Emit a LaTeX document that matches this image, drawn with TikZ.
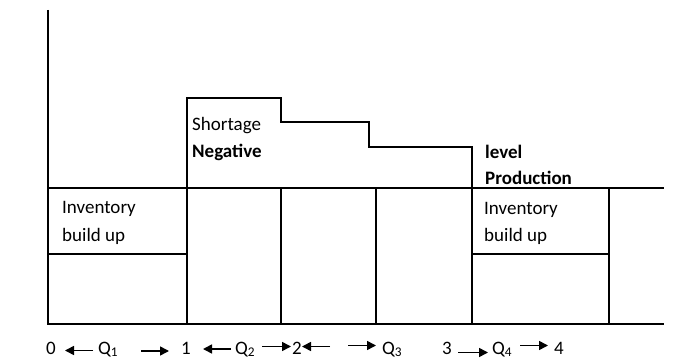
\documentclass[tikz,border=0pt]{standalone}
\usepackage{fontspec}
\setmainfont{Carlito}
\usetikzlibrary{arrows.meta}
\begin{document}
\begin{tikzpicture}[x=1pt,y=-1pt,
  ln/.style={line width=1.1pt, line join=miter},
  lbl/.style={anchor=base west, inner sep=0pt, font=\fontsize{19}{27}\selectfont},
  num/.style={anchor=base, inner sep=0pt, font=\fontsize{19}{27}\selectfont},
  arr/.style={line width=1.6pt, -{Triangle[length=9pt,width=9pt]}}]
\useasboundingbox (0,0) rectangle (674,363);
% frame
\draw[ln] (48,10) -- (48,324) -- (664,324);
\draw[ln] (48,188) -- (664,188);
\draw[ln] (48,254) -- (187,254);
\draw[ln] (187,324) -- (187,98) -- (281,98) -- (281,122) -- (369,122) -- (369,147) -- (472,147) -- (472,324);
\draw[ln] (281,188) -- (281,324);
\draw[ln] (376,188) -- (376,324);
\draw[ln] (609,188) -- (609,324);
\draw[ln] (472,254) -- (609,254);
% texts
\node[lbl] (inv1) at (62,214) {Inventory};
\node[lbl] (bu1) at (62,241) {build up};
\node[lbl] (sh) at (192,130.7) {Shortage};
\node[lbl] (neg) at (192,157.7) {\bfseries Negative};
\node[lbl] (lev) at (485,158.3) {\bfseries level};
\node[lbl] (prod) at (485,185) {\bfseries Production};
\node[lbl] (inv2) at (484,215) {Inventory};
\node[lbl] (bu2) at (484,241) {build up};
% bottom labels
\node[num] (n0) at (51,354) {0};
\node[lbl] (q1) at (98,354) {Q\textsubscript{1}};
\node[num] (n1) at (186,354) {1};
\node[lbl] (q2) at (235,354) {Q\textsubscript{2}};
\node[num] (n2) at (297,354) {2};
\node[lbl] (q3) at (382,354) {Q\textsubscript{3}};
\node[num] (n3) at (447,354) {3};
\node[lbl] (q4) at (492,354) {Q\textsubscript{4}};
\node[num] (n4) at (559,354) {4};
% arrows
\coordinate (a1s) at (93,350.5); \coordinate (a1e) at (65,350.5);
\coordinate (a2s) at (141,351); \coordinate (a2e) at (169,351);
\coordinate (a3s) at (231,349); \coordinate (a3e) at (203,349);
\coordinate (a4s) at (262,346.5); \coordinate (a4e) at (291,346.5);
\coordinate (a5s) at (330,346.5); \coordinate (a5e) at (302,346.5);
\coordinate (a6s) at (348,345.5); \coordinate (a6e) at (376,345.5);
\coordinate (a7s) at (458,352.5); \coordinate (a7e) at (488,352.5);
\coordinate (a8s) at (520,345.5); \coordinate (a8e) at (548,345.5);
\draw[arr] (a1s) -- (a1e);
\draw[arr] (a2s) -- (a2e);
\draw[arr] (a3s) -- (a3e);
\draw[arr] (a4s) -- (a4e);
\draw[arr] (a5s) -- (a5e);
\draw[arr] (a6s) -- (a6e);
\draw[arr] (a7s) -- (a7e);
\draw[arr] (a8s) -- (a8e);
\end{tikzpicture}
\end{document}
